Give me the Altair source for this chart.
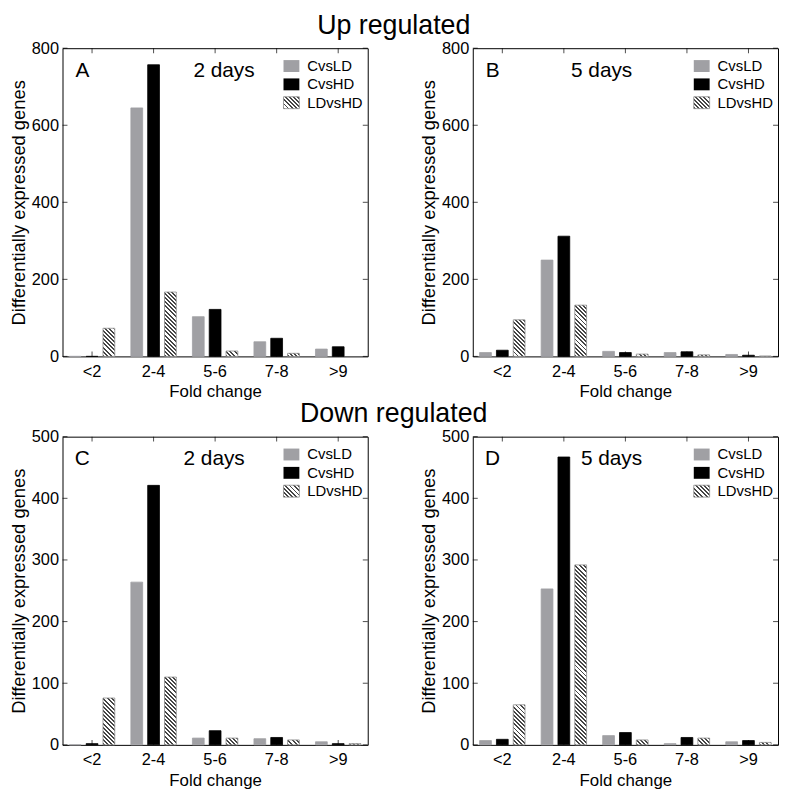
import math
import altair as alt

# ---------------- data ----------------
cats = ["<2", "2-4", "5-6", "7-8", ">9"]
series = ["CvsLD", "CvsHD", "LDvsHD"]

up2_cvsld = [0, 645, 103, 38, 19]
up2_cvshd = [0, 757, 122, 47, 25]
up2_ldvshd = [73, 167, 14, 8, 0]

up5_cvsld = [10, 250, 13, 10, 5]
up5_cvshd = [16, 312, 10, 12, 3]
up5_ldvshd = [95, 133, 6, 4, 1]

down2_cvsld = [0, 264, 11, 10, 5]
down2_cvshd = [2, 421, 23, 12, 2]
down2_ldvshd = [76, 110, 11, 8, 2]

down5_cvsld = [7, 253, 15, 2, 5]
down5_cvshd = [9, 467, 20, 12, 7]
down5_ldvshd = [65, 292, 8, 11, 4]

# ---------------- style ----------------
W, H = 308, 311
FONT = "Liberation Sans"
GRAY = "#a0a0a4"
BLACK = "#000000"
HATCH_DARK = "#454545"
HATCH_EDGE = "#8c8c8c"
TICK = 5

# bar width in pixels as produced by the band scales below
_step = W / (5 - 0.18 + 2 * 0.07)
_band = _step * (1 - 0.18)
_sub = _band / (3 - 0.3 + 2 * 0.15)
BAR_W = _sub * (1 - 0.3)


def hatch(w, h, period=4.2, frac=0.47):
    """Diagonal '\\' stripes as a linear gradient in bounding-box units."""
    h = max(h, 0.5)
    s = (w + h) / (w * w + h * h)
    n = (w + h) / period
    stops = []
    k = 0
    while k < n:
        a = k / n
        b = min((k + frac) / n, 1.0)
        c = min((k + 1) / n, 1.0)
        stops += [
            {"offset": round(a, 5), "color": HATCH_DARK},
            {"offset": round(b, 5), "color": HATCH_DARK},
            {"offset": round(b, 5), "color": "#ffffff"},
            {"offset": round(c, 5), "color": "#ffffff"},
        ]
        k += 1
    return {"gradient": "linear", "x1": 0, "y1": 1,
            "x2": round(s * w, 6), "y2": round(1 - s * h, 6), "stops": stops}


def records(a, b, c, ymax):
    recs = []
    for i, cat in enumerate(cats):
        for s, v in zip(series, (a[i], b[i], c[i])):
            if s == "CvsLD":
                fill, stroke = GRAY, GRAY
            elif s == "CvsHD":
                fill, stroke = BLACK, BLACK
            else:
                fill = hatch(BAR_W, v / ymax * H) if v > 0 else "#ffffff"
                stroke = HATCH_EDGE if v > 0 else "transparent"
            recs.append({"fold": cat, "series": s, "value": v,
                         "fill": fill, "stroke": stroke})
    return recs


def panel(letter, days, ymax, ystep, a, b, c, day_x):
    data = alt.Data(values=records(a, b, c, ymax))
    one = alt.Data(values=[{"k": 0}])
    xs = alt.Scale(domain=cats, paddingInner=0.18, paddingOuter=0.07)
    ys = alt.Scale(domain=[0, ymax], nice=False)
    yvals = list(range(0, ymax + 1, ystep))
    ydata = alt.Data(values=[{"v": v} for v in yvals])
    xdata = alt.Data(values=[{"fold": c_} for c_ in cats])

    bars = alt.Chart(data).mark_bar(strokeWidth=0.8).encode(
        x=alt.X("fold:N", sort=cats, scale=xs,
                axis=alt.Axis(title="Fold change", labelAngle=0, ticks=False,
                              tickSize=0, domain=False, labelPadding=7,
                              titlePadding=4)),
        xOffset=alt.XOffset("series:N", sort=series,
                            scale=alt.Scale(domain=series, paddingInner=0.3,
                                            paddingOuter=0.15)),
        y=alt.Y("value:Q", scale=ys,
                axis=alt.Axis(title="Differentially expressed genes",
                              values=yvals, ticks=False, tickSize=0,
                              domain=False, grid=False, labelPadding=4,
                              titlePadding=3, titleFontSize=18.5)),
        fill=alt.Fill("fill:N", scale=None),
        stroke=alt.Stroke("stroke:N", scale=None),
    )

    layers = [bars]
    # inward ticks on the four sides of the frame
    for xpos in (TICK / 2, W - TICK / 2):
        layers.append(alt.Chart(ydata).mark_tick(
            orient="horizontal", size=TICK, thickness=1, color="black").encode(
            y=alt.Y("v:Q", scale=ys, axis=None), x=alt.value(xpos)))
    for ypos in (TICK / 2, H - TICK / 2):
        layers.append(alt.Chart(xdata).mark_tick(
            orient="vertical", size=TICK, thickness=1, color="black").encode(
            x=alt.X("fold:N", sort=cats, scale=xs, axis=None),
            y=alt.value(ypos)))

    layers.append(alt.Chart(one).mark_text(
        text=letter, fontSize=21, align="center", baseline="middle",
        color="black").encode(x=alt.value(20), y=alt.value(23)))
    layers.append(alt.Chart(one).mark_text(
        text=days, fontSize=21, align="center", baseline="middle",
        color="black").encode(x=alt.value(day_x), y=alt.value(23)))

    for i, s in enumerate(series):
        yc = 18 + 18.5 * i
        if s == "CvsLD":
            mk = dict(fill=GRAY)
        elif s == "CvsHD":
            mk = dict(fill=BLACK)
        else:
            mk = dict(fill=hatch(16, 12), stroke=HATCH_EDGE, strokeWidth=0.8)
        layers.append(alt.Chart(one).mark_rect(**mk).encode(
            x=alt.value(W - 85), x2=alt.value(W - 69),
            y=alt.value(yc - 6), y2=alt.value(yc + 6)))
        layers.append(alt.Chart(one).mark_text(
            text=s, fontSize=15, align="left", baseline="middle",
            color="black").encode(x=alt.value(W - 61), y=alt.value(yc)))

    return alt.layer(*layers).resolve_axis(
        x="independent", y="independent").properties(width=W, height=H)


pA = panel("A", "2 days", 800, 200, up2_cvsld, up2_cvshd, up2_ldvshd, 163)
pB = panel("B", "5 days", 800, 200, up5_cvsld, up5_cvshd, up5_ldvshd, 130)
pC = panel("C", "2 days", 500, 100, down2_cvsld, down2_cvshd, down2_ldvshd, 153)
pD = panel("D", "5 days", 500, 100, down5_cvsld, down5_cvshd, down5_ldvshd, 140)

top = alt.hconcat(pA, pB, spacing=50,
                  title=alt.Title("Up regulated", fontSize=27, anchor="middle",
                                  offset=0, fontWeight="normal"))
bot = alt.hconcat(pC, pD, spacing=50,
                  title=alt.Title("Down regulated", fontSize=27,
                                  anchor="middle", offset=0,
                                  fontWeight="normal"))

chart = alt.vconcat(top, bot, spacing=0).properties(padding=0).configure(
    font=FONT
).configure_view(
    stroke="black", strokeWidth=1
).configure_axis(
    labelFont=FONT, titleFont=FONT, labelFontSize=16.5, titleFontSize=17,
    titleFontWeight="normal", labelColor="black", titleColor="black",
    tickColor="black", tickWidth=1
).configure_title(font=FONT, color="black")

chart.save("out.html", embed_options={"renderer": "svg", "actions": False})
